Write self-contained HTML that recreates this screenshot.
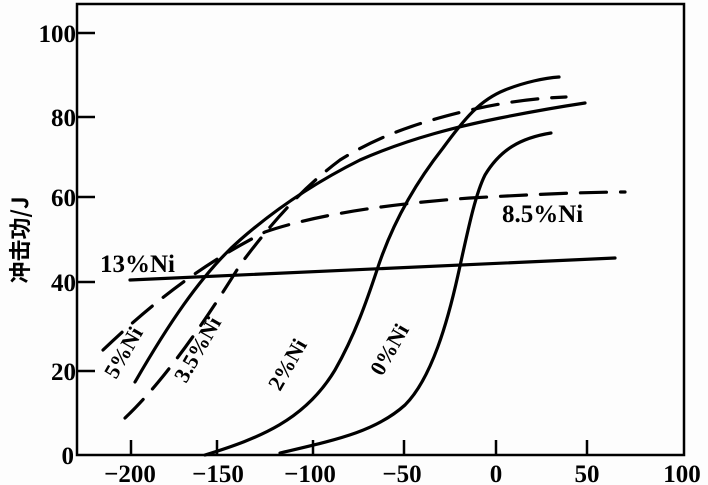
<!DOCTYPE html>
<html><head><meta charset="utf-8"><style>
html,body{margin:0;padding:0;background:#fff;}
svg{display:block;}
</style></head><body>
<svg width="708" height="485" viewBox="0 0 708 485" xmlns="http://www.w3.org/2000/svg">
<rect width="708" height="485" fill="#fdfdfd"/>
<path d="M77,4 L684,4 L684,455 L77,455 Z" fill="none" stroke="#000" stroke-width="2.5"/>
<g stroke="#000" stroke-width="2.5">
<line x1="77" y1="33" x2="95" y2="33"/>
<line x1="77" y1="117" x2="95" y2="117"/>
<line x1="77" y1="197" x2="95" y2="197"/>
<line x1="77" y1="282" x2="95" y2="282"/>
<line x1="77" y1="371" x2="95" y2="371"/>
<line x1="131" y1="455" x2="131" y2="440"/>
<line x1="217" y1="455" x2="217" y2="440"/>
<line x1="313" y1="455" x2="313" y2="440"/>
<line x1="404" y1="455" x2="404" y2="440"/>
<line x1="496" y1="455" x2="496" y2="440"/>
<line x1="587" y1="455" x2="587" y2="440"/>
</g>
<g style="font-family:'Liberation Serif',serif;font-size:25px;font-weight:bold" fill="#000">
<g text-anchor="end">
<text x="76" y="42">100</text>
<text x="76" y="126">80</text>
<text x="76" y="206">60</text>
<text x="76" y="291">40</text>
<text x="76" y="380">20</text>
<text x="74" y="464">0</text>
</g>
<g text-anchor="middle">
<text x="130" y="482">−200</text>
<text x="218" y="482">−150</text>
<text x="310" y="482">−100</text>
<text x="402" y="482">−50</text>
<text x="496" y="482">0</text>
<text x="587" y="482">50</text>
<text x="682" y="482">100</text>
</g>
<text x="100" y="272">13%Ni</text>
<text x="502" y="222">8.5%Ni</text>
<g style="font-size:22px">
<text transform="translate(116,380) rotate(-60)">5%Ni</text>
<text transform="translate(186,384) rotate(-60)">3.5%Ni</text>
<text transform="translate(280,392) rotate(-60)">2%Ni</text>
<text transform="translate(382,377) rotate(-60)">0%Ni</text>
</g>
</g>
<text transform="translate(28,240) rotate(-90)" text-anchor="middle" style="font-family:'Noto Sans CJK SC',sans-serif;font-size:22px;font-weight:bold" fill="#000">冲击功/J</text>

<g fill="none" stroke="#000" stroke-width="3.2" stroke-linecap="round">
<path d="M130,280 L615,258"/>
<path d="M103,350 C150,305 200,265 265,232 C320,213 400,203 470,198 C540,194 590,192 625,192" stroke-dasharray="26,14"/>
<path d="M135,382 C165,330 200,275 240,240 C280,205 320,180 360,160 C410,138 460,126 500,118 C540,110 565,106 585,103"/>
<path d="M125,418 C160,385 200,330 240,265 C270,225 300,190 340,160 C380,135 420,122 470,110 C510,101 540,98 566,97" stroke-dasharray="26,14"/>
<path d="M205,455 C260,438 305,420 335,370 C355,335 367,300 377,270 C390,230 410,190 443,148 C465,118 480,100 505,90 C525,82 545,78 559,77"/>
<path d="M280,453 C335,440 375,432 405,405 C432,378 448,320 458,275 C468,230 475,195 485,175 C500,150 520,138 551,133"/>
</g>
</svg>
</body></html>
